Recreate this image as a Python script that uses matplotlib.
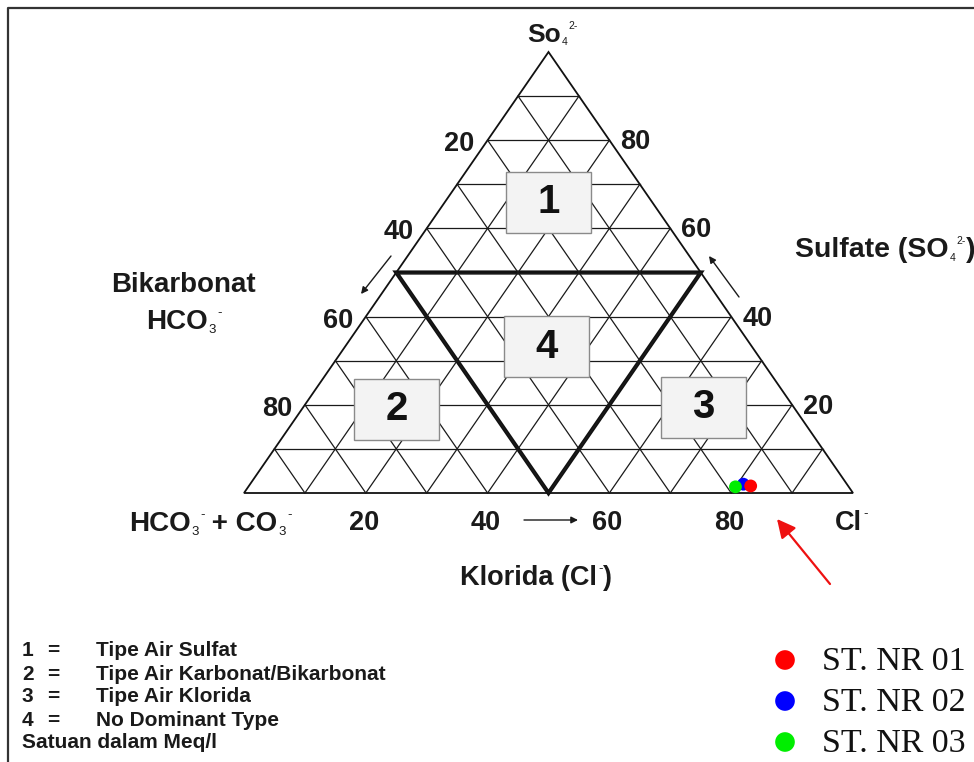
import matplotlib
matplotlib.use("Agg")
import matplotlib.pyplot as plt
from matplotlib.patches import Rectangle, Polygon

plt.rcParams['font.family'] = ['Liberation Sans', 'DejaVu Sans']

# ---------------- data (percent, meq/l) ----------------
stations = ["ST. NR 01", "ST. NR 02", "ST. NR 03"]
cl_pct = [82.4, 81.0, 80.0]
so4_pct = [1.6, 2.0, 1.4]
hco3_pct = [16.0, 17.0, 18.6]
colors = ["#ff0000", "#0000ff", "#00ee00"]

tick_values = [20, 40, 60, 80]
zone_numbers = ["1", "2", "3", "4"]
# zone label centres as (Cl, SO4) percentages
zone_cl = [17.0, 15.6, 65.7, 33.1]
zone_so4 = [65.9, 19.0, 19.5, 33.2]
legend_lines = [("1", "Tipe Air Sulfat"),
                ("2", "Tipe Air Karbonat/Bikarbonat"),
                ("3", "Tipe Air Klorida"),
                ("4", "No Dominant Type")]


def tern(cl, so4):
    """ternary (Cl, SO4) fractions -> plot coords"""
    return cl + so4 / 2.0, so4


def P(xp, yp):
    """pixel position in the figure -> plot coords (for annotation placement)"""
    return (xp - 244) / 609.0, (493 - yp) / 441.0


fig = plt.figure(figsize=(9.74, 7.62), dpi=100)
ax = fig.add_axes([0, 0, 1, 1])
x0, y0 = P(0, 762)
x1, y1 = P(974, 0)
ax.set_xlim(x0, x1)
ax.set_ylim(y0, y1)
ax.axis('off')

tc = '#1a1a1a'


def chem(xp, yp, parts, size, subsize=9):
    """draw text made of (main, sub, sup) pieces, left-anchored at pixel pos"""
    prev = None
    for main, sub, sup in parts:
        if prev is None:
            t = ax.text(*P(xp, yp), main, ha='left', va='center',
                        fontsize=size, fontweight='bold', color=tc)
        else:
            t = ax.annotate(main, xy=(1, 0.5), xycoords=prev, ha='left',
                            va='center', fontsize=size, fontweight='bold',
                            color=tc)
        anchor = t
        if sub:
            s = ax.annotate(sub, xy=(1.0, 0.2), xycoords=(anchor, t),
                            xytext=(0.6, 0), textcoords='offset points',
                            ha='left', va='center', fontsize=subsize,
                            color=tc)
            anchor = s
        if sup:
            u = ax.annotate(sup, xy=(1.0, 0.86), xycoords=(anchor, t),
                            xytext=(0.8, 0), textcoords='offset points',
                            ha='left', va='center', fontsize=subsize,
                            color=tc)
            anchor = u
        prev = (anchor, t)


# frame (top and left visible)
ax.plot([P(8, 0)[0], P(8, 0)[0], P(990, 0)[0]],
        [P(0, 780)[1], P(0, 8)[1], P(0, 8)[1]], color='#333333', lw=1.6,
        solid_capstyle='butt', clip_on=False)

# grid
for i in range(1, 10):
    f = i / 10.0
    a = tern(0, f); b = tern(1 - f, f)
    ax.plot([a[0], b[0]], [a[1], b[1]], color='#1a1a1a', lw=0.9)
    a = tern(f, 0); b = tern(f, 1 - f)
    ax.plot([a[0], b[0]], [a[1], b[1]], color='#1a1a1a', lw=0.9)
    a = tern(1 - f, 0); b = tern(0, 1 - f)
    ax.plot([a[0], b[0]], [a[1], b[1]], color='#1a1a1a', lw=0.9)

# outer triangle
corners = [tern(0, 0), tern(1, 0), tern(0, 1)]
ax.add_patch(Polygon(corners, closed=True, fill=False, ec='#111111', lw=1.3))
# inner (no dominant type) triangle
inner = [tern(0, 0.5), tern(0.5, 0.5), tern(0.5, 0)]
ax.add_patch(Polygon(inner, closed=True, fill=False, ec='#111111', lw=3.0,
                     joinstyle='miter'))

# zone boxes
bw, bh = 85 / 609.0, 61 / 441.0
for n, c, s in zip(zone_numbers, zone_cl, zone_so4):
    cx, cy = tern(c / 100.0, s / 100.0)
    ax.add_patch(Rectangle((cx - bw / 2, cy - bh / 2), bw, bh, fc='#f3f3f3',
                           ec='#8a8a8a', lw=1.0, zorder=3))
    ax.text(cx, cy, n, ha='center', va='center', fontsize=29,
            fontweight='bold', color='#111111', zorder=4)

# tick labels
dpx = 1 / 609.0
dpy = 1 / 441.0
for v in tick_values:
    f = v / 100.0
    x, y = tern(f, 0)
    ax.text(x - 2 * dpx, y - 30 * dpy, str(v), ha='center', va='center',
            fontsize=19.5, fontweight='bold', color=tc)
    x, y = tern(0, 1 - f)
    ax.text(x - 28 * dpx, y - 4 * dpy, str(v), ha='center', va='center',
            fontsize=19.5, fontweight='bold', color=tc)
    x, y = tern(1 - f, f)
    ax.text(x + 26 * dpx, y - 2 * dpy, str(v), ha='center', va='center',
            fontsize=19.5, fontweight='bold', color=tc)


# direction arrows
def arrow(p_from, p_to, color='#1a1a1a', lw=1.0, ms=10):
    ax.annotate('', xy=P(*p_to), xytext=P(*p_from),
                arrowprops=dict(arrowstyle='-|>', color=color, lw=lw,
                                mutation_scale=ms, shrinkA=0, shrinkB=0))


arrow((524, 520), (578, 520))
arrow((391, 256), (361, 294))
arrow((739, 297), (709, 256))
arrow((830, 584), (777, 519), color='#ee1111', lw=1.6, ms=28)

# axis titles
chem(527, 35, [("So", "4", "2-")], 19, 7.5)
chem(795, 250, [("Sulfate (SO", "4", "2-"), (")", None, None)], 20.5, 7.5)
ax.text(*P(183, 285), "Bikarbonat", ha='center', va='center', fontsize=20,
        fontweight='bold', color=tc)
chem(146, 322, [("HCO", "3", "-")], 20, 9.5)
chem(129, 524, [("HCO", "3", "-"), (" + CO", "3", "-")], 20, 9.5)
chem(835, 523, [("Cl", None, "-")], 19.5, 9.5)
chem(460, 578, [("Klorida (Cl", None, "-"), (")", None, None)], 19.5, 9.5)

# sample points
for i in [1, 0, 2]:
    x, y = tern(cl_pct[i] / 100.0, so4_pct[i] / 100.0)
    ax.scatter([x], [y], s=85, color=colors[i], zorder=6, edgecolors='none')

# zone legend (bottom-left)
ys = [651, 674, 697, 720]
for (num, txt), yy in zip(legend_lines, ys):
    ax.text(*P(22, yy), num, ha='left', va='center', fontsize=15,
            fontweight='bold', color=tc)
    ax.text(*P(47, yy), "=", ha='left', va='center', fontsize=15,
            fontweight='bold', color=tc)
    ax.text(*P(96, yy), txt, ha='left', va='center', fontsize=15,
            fontweight='bold', color=tc)
ax.text(*P(22, 743), "Satuan dalam Meq/l", ha='left', va='center',
        fontsize=15, fontweight='bold', color=tc)

# station legend (bottom-right)
leg_y = [660, 701, 742]
for name, col, yy in zip(stations, colors, leg_y):
    ax.scatter(*P(785, yy), s=200, color=col, edgecolors='none',
               clip_on=False)
    ax.text(*P(822, yy + 2), name, ha='left', va='center', fontsize=24.5,
            family='Liberation Serif', color='#111111')

fig.savefig("out.png", dpi=100)
